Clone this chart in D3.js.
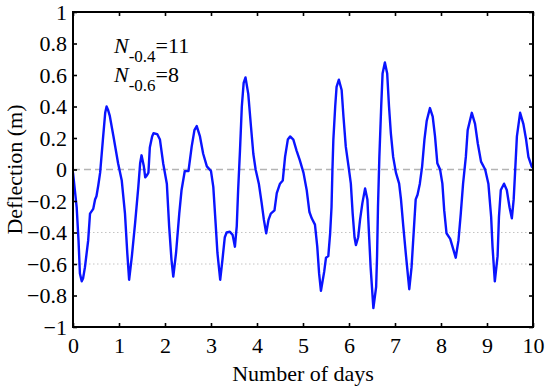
<!DOCTYPE html>
<html><head><meta charset="utf-8">
<script src="https://cdn.jsdelivr.net/npm/d3@7"></script>
<style>body{margin:0;background:#fff}svg{display:block}</style>
</head><body>
<svg id="c" width="550" height="389"></svg>
<script>
const days = [0.00,0.08,0.12,0.15,0.19,0.22,0.26,0.33,0.37,0.44,0.48,0.51,0.55,0.59,0.65,0.70,0.73,0.76,0.80,0.88,0.98,
1.06,1.13,1.18,1.22,1.28,1.35,1.42,1.46,1.49,1.54,1.57,1.60,1.64,1.67,1.72,1.75,1.83,1.89,1.96,
2.04,2.09,2.14,2.18,2.24,2.31,2.36,2.43,2.51,2.58,2.64,2.69,2.76,2.83,2.91,
3.00,3.05,3.10,3.14,3.20,3.25,3.30,3.34,3.41,3.47,3.52,3.56,3.59,3.63,3.67,3.71,3.75,3.81,3.87,3.92,3.97,
4.04,4.10,4.15,4.20,4.25,4.30,4.38,4.43,4.50,4.56,4.61,4.67,4.72,4.79,4.86,4.93,
5.01,5.08,5.14,5.19,5.26,5.31,5.35,5.39,5.46,5.50,5.55,5.59,5.62,5.64,5.66,5.70,5.73,5.78,5.84,5.88,5.93,5.99,
6.04,6.08,6.12,6.15,6.20,6.24,6.29,6.35,6.40,6.43,6.47,6.53,6.59,6.61,6.63,6.66,6.70,6.73,6.78,6.83,6.87,6.91,6.96,
7.02,7.09,7.13,7.18,7.24,7.31,7.36,7.41,7.45,7.49,7.54,7.59,7.64,7.69,7.76,7.82,7.87,7.92,7.98,
8.03,8.07,8.12,8.20,8.25,8.32,8.38,8.43,8.48,8.54,8.58,8.67,8.74,8.80,8.87,8.96,
9.03,9.09,9.12,9.17,9.23,9.26,9.30,9.37,9.43,9.49,9.54,9.58,9.61,9.65,9.72,9.79,9.85,9.90,9.97,10.0];
const deflection = [-0.02,-0.24,-0.45,-0.66,-0.71,-0.69,-0.62,-0.45,-0.28,-0.25,-0.19,-0.17,-0.10,-0.02,0.19,0.36,0.40,0.38,0.34,0.21,0.04,
-0.07,-0.28,-0.53,-0.70,-0.55,-0.34,-0.11,0.04,0.09,0.02,-0.05,-0.04,-0.02,0.14,0.21,0.23,0.225,0.19,0.04,
-0.09,-0.36,-0.57,-0.68,-0.53,-0.28,-0.13,-0.01,-0.01,0.145,0.25,0.276,0.21,0.10,0.02,
-0.01,-0.11,-0.34,-0.53,-0.70,-0.57,-0.43,-0.40,-0.395,-0.415,-0.49,-0.36,-0.13,0.12,0.40,0.55,0.585,0.48,0.27,0.10,0.00,
-0.09,-0.21,-0.32,-0.405,-0.32,-0.28,-0.26,-0.15,-0.09,-0.07,0.08,0.19,0.21,0.19,0.12,0.06,
-0.02,-0.13,-0.27,-0.31,-0.35,-0.49,-0.66,-0.77,-0.65,-0.56,-0.55,-0.405,-0.24,0.00,0.19,0.40,0.525,0.57,0.505,0.335,0.145,0.02,
-0.09,-0.28,-0.43,-0.48,-0.43,-0.32,-0.215,-0.12,-0.19,-0.38,-0.62,-0.88,-0.745,-0.55,-0.24,0.08,0.40,0.61,0.68,0.61,0.40,0.23,0.08,
-0.02,-0.09,-0.19,-0.36,-0.55,-0.76,-0.62,-0.38,-0.19,-0.16,-0.09,0.02,0.19,0.31,0.39,0.335,0.21,0.04,0.00,
-0.09,-0.26,-0.405,-0.44,-0.49,-0.56,-0.45,-0.28,-0.09,0.08,0.25,0.36,0.29,0.165,0.05,0.00,
-0.09,-0.30,-0.49,-0.71,-0.55,-0.30,-0.13,-0.09,-0.13,-0.24,-0.31,-0.19,-0.02,0.21,0.36,0.29,0.19,0.08,0.02,0.01];
const xTicks = [0,1,2,3,4,5,6,7,8,9,10];
const yTicks = [-1,-0.8,-0.6,-0.4,-0.2,0,0.2,0.4,0.6,0.8,1];
const dashedLevels = [0];
const dottedLevels = [-0.4,-0.6];
const annotations = [{sub:"-0.4", val:"=11"},{sub:"-0.6", val:"=8"}];

const svg = d3.select("#c");
const L=73, T=12, W=460, H=315;
const x = d3.scaleLinear().domain([0,10]).range([L,L+W]);
const y = d3.scaleLinear().domain([-1,1]).range([T+H,T]);
const font = "Liberation Serif";

// reference lines
svg.selectAll(".dl").data(dashedLevels).join("line")
  .attr("x1",x(0)).attr("x2",x(10)).attr("y1",d=>y(d)).attr("y2",d=>y(d))
  .attr("stroke","#b4b4b4").attr("stroke-width",1.6).attr("stroke-dasharray","7,4");
svg.selectAll(".dt").data(dottedLevels).join("line")
  .attr("x1",x(0)).attr("x2",x(10)).attr("y1",d=>y(d)).attr("y2",d=>y(d))
  .attr("stroke","#c4c4c4").attr("stroke-width",1).attr("stroke-dasharray","1.5,2.5");

// series
svg.append("clipPath").attr("id","cp").append("rect").attr("x",L).attr("y",T).attr("width",W).attr("height",H);
const line = d3.line().x((d,i)=>x(days[i])).y(d=>y(d));
svg.append("path").attr("d",line(deflection)).attr("clip-path","url(#cp)")
  .attr("fill","none").attr("stroke","#0a14ff").attr("stroke-width",2.4).attr("stroke-linejoin","round");

// axes
function style(g){
  g.attr("font-family",font).attr("font-size",22);
  g.select(".domain").remove();
  g.selectAll("line").attr("stroke","#000").attr("stroke-width",1.6);
  g.selectAll("text").attr("font-family",font).attr("font-size",22).attr("fill","#000");
}
svg.append("g").attr("transform",`translate(0,${T+H})`)
  .call(d3.axisBottom(x).tickValues(xTicks).tickFormat(d3.format("d")).tickSize(-4).tickPadding(10)).call(style);
svg.append("g").attr("transform",`translate(0,${T})`)
  .call(d3.axisTop(x).tickValues(xTicks).tickFormat("").tickSize(-4)).call(style);
svg.append("g").attr("transform",`translate(${L},0)`)
  .call(d3.axisLeft(y).tickValues(yTicks).tickFormat(d=>d3.format("")(+d.toFixed(1))).tickSize(-4).tickPadding(6)).call(style);
svg.append("g").attr("transform",`translate(${L+W},0)`)
  .call(d3.axisRight(y).tickValues(yTicks).tickFormat("").tickSize(-4)).call(style);
svg.append("rect").attr("x",L).attr("y",T).attr("width",W).attr("height",H)
  .attr("fill","none").attr("stroke","#000").attr("stroke-width",2);

// axis titles
svg.append("text").attr("x",x(5)).attr("y",381).attr("text-anchor","middle")
  .attr("font-family",font).attr("font-size",22).text("Number of days");
svg.append("text").attr("transform",`translate(22,${y(0)}) rotate(-90)`).attr("text-anchor","middle")
  .attr("font-family",font).attr("font-size",22).text("Deflection (m)");

// annotation
annotations.forEach((a,i)=>{
  const t = svg.append("text").attr("x",114).attr("y",53+i*29).attr("font-family",font).attr("font-size",22);
  t.append("tspan").attr("font-style","italic").text("N");
  t.append("tspan").attr("font-size",17).attr("dy",9).text(a.sub);
  t.append("tspan").attr("dy",-9).text(a.val);
});
</script>
</body></html>
